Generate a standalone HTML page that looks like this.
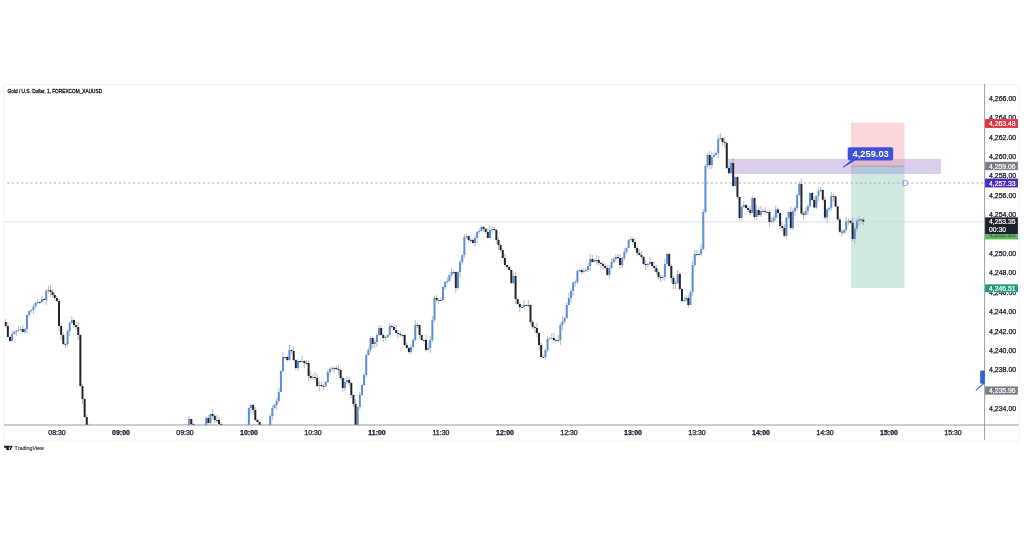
<!DOCTYPE html>
<html><head><meta charset="utf-8"><style>
html,body{margin:0;padding:0;background:#fff;width:1024px;height:536px;overflow:hidden}
svg{display:block;font-family:"Liberation Sans",sans-serif;will-change:transform;filter:blur(0.3px)}
</style></head><body>
<svg width="1024" height="536" viewBox="0 0 1024 536">
<rect x="4" y="84.5" width="1015" height="356.5" fill="#fff" stroke="#f0f0f0" stroke-width="0.8"/>
<defs><clipPath id="pane"><rect x="4.5" y="84.5" width="980" height="340.5"/></clipPath></defs>
<g clip-path="url(#pane)">
<rect x="728" y="158.9" width="213" height="15.1" fill="#dbcdec"/>
<rect x="851" y="122.6" width="53.5" height="43.7" fill="#fbd6da"/>
<rect x="851" y="166.3" width="53.5" height="121.6" fill="#cfe8e2"/>
<rect x="851" y="158.9" width="53.5" height="7.4" fill="#e0b9cd"/>
<rect x="851" y="166.3" width="53.5" height="7.7" fill="#b6c5da"/>
<line x1="851" y1="166.3" x2="904.5" y2="166.3" stroke="#9b9ba6" stroke-width="0.8"/>
<line x1="4.5" y1="221.8" x2="984.5" y2="221.8" stroke="#d5d7dc" stroke-width="0.8"/>
<line x1="4.5" y1="183" x2="984.5" y2="183" stroke="#a4a7b0" stroke-width="1" stroke-dasharray="2 2.66" stroke-dashoffset="1.9"/>
<path d="M5.70 319.00V327.50M7.83 322.00V337.50M9.97 336.00V342.00M12.10 331.00V341.50M14.23 330.00V334.50M16.37 330.00V336.00M18.50 326.00V332.00M20.63 327.00V331.00M22.77 325.00V332.50M24.90 328.00V334.00M27.03 314.50V333.00M29.17 310.50V317.00M31.30 309.50V312.50M33.43 304.00V314.00M35.57 301.50V307.50M37.70 299.50V304.50M39.83 301.00V304.00M41.97 296.00V303.00M44.10 298.00V300.50M46.23 289.00V305.00M48.37 286.00V294.00M50.50 285.00V297.00M52.63 289.00V297.50M54.77 293.00V299.50M56.90 296.00V302.00M59.03 298.50V331.00M61.17 323.00V340.00M63.30 332.50V345.00M65.43 343.00V348.00M67.57 329.50V347.00M69.70 321.50V336.00M71.83 316.00V323.50M73.97 319.00V328.00M76.10 322.00V330.00M78.23 322.00V340.00M80.37 334.00V387.00M82.50 383.50V404.00M84.63 398.00V417.50M86.77 414.50V431.00M88.90 423.50V454.00M91.03 447.00V450.50M93.17 445.00V453.00M95.30 448.50V451.00M97.43 445.00V450.50M99.57 448.00V452.50M101.70 448.50V452.00M103.83 446.00V454.00M105.97 445.00V451.00M108.10 448.50V455.00M110.23 446.00V452.50M112.37 448.50V454.00M114.50 447.50V454.00M116.63 447.00V454.00M118.77 448.00V451.50M120.90 449.00V451.50M123.03 448.50V452.00M125.17 448.00V450.50M127.30 445.00V451.50M129.43 447.50V452.50M131.57 449.50V451.50M133.70 446.00V453.00M135.83 447.00V451.50M137.97 449.50V455.00M140.10 446.00V454.00M142.23 446.00V454.00M144.37 449.00V455.00M146.50 446.00V450.50M148.63 448.00V451.00M150.77 448.00V455.00M152.90 448.50V451.00M155.03 447.00V450.50M157.17 449.00V450.50M159.30 448.50V451.00M161.43 447.00V450.50M163.57 449.00V452.00M165.70 446.00V451.50M167.83 447.50V453.00M169.97 447.00V455.00M172.10 449.00V451.00M174.23 445.00V455.00M176.37 445.00V455.00M178.50 447.50V451.00M180.63 448.50V451.00M182.77 447.00V452.50M184.90 445.00V451.50M187.03 449.50V452.00M189.17 416.00V451.50M191.30 418.50V426.50M193.43 423.00V452.50M195.57 447.00V451.50M197.70 447.00V452.00M199.83 447.00V452.00M201.97 448.00V452.00M204.10 446.00V452.00M206.23 416.00V455.00M208.37 415.00V423.50M210.50 413.50V425.50M212.63 409.00V418.50M214.77 414.00V423.00M216.90 415.00V423.00M219.03 417.00V425.00M221.17 422.00V451.00M223.30 448.00V455.00M225.43 448.00V453.00M227.57 448.00V455.00M229.70 449.50V455.00M231.83 447.00V451.00M233.97 449.00V454.00M236.10 448.00V455.00M238.23 448.50V454.00M240.37 447.00V451.00M242.50 446.00V455.00M244.63 446.00V451.00M246.77 448.50V451.50M248.90 406.50V450.50M251.03 403.50V413.00M253.17 403.50V415.00M255.30 407.00V421.50M257.43 418.50V422.50M259.57 421.50V426.00M261.70 423.50V454.00M263.83 448.00V452.00M265.97 449.50V452.50M268.10 448.00V452.50M270.23 414.00V453.00M272.37 405.50V420.00M274.50 403.50V408.50M276.63 398.00V410.00M278.77 388.00V402.50M280.90 369.50V392.50M283.03 352.00V372.50M285.17 356.50V358.50M287.30 355.50V361.50M289.43 345.00V361.00M291.57 349.50V354.00M293.70 346.00V361.00M295.83 359.50V370.00M297.97 359.00V370.50M300.10 360.50V363.00M302.23 356.00V362.50M304.37 360.00V368.00M306.50 360.00V365.00M308.63 360.50V381.00M310.77 371.00V380.00M312.90 374.50V380.00M315.03 372.00V379.50M317.17 374.00V387.00M319.30 381.00V391.00M321.43 382.00V387.00M323.57 384.00V390.00M325.70 381.00V388.00M327.83 369.50V383.00M329.97 367.50V375.00M332.10 366.50V371.50M334.23 366.50V373.00M336.37 366.00V370.00M338.50 365.00V375.00M340.63 368.50V380.00M342.77 376.50V392.00M344.90 378.00V391.00M347.03 376.00V384.00M349.17 377.00V386.00M351.30 382.00V398.00M353.43 394.50V407.00M355.57 399.00V430.00M357.70 406.50V429.00M359.83 392.00V409.50M361.97 384.00V396.00M364.10 373.00V386.00M366.23 354.00V377.50M368.37 347.50V355.50M370.50 336.50V352.50M372.63 336.50V348.00M374.77 339.50V348.00M376.90 333.50V347.00M379.03 325.00V336.00M381.17 325.50V335.50M383.30 333.50V342.00M385.43 336.00V340.50M387.57 334.50V338.00M389.70 323.50V336.00M391.83 324.00V328.00M393.97 324.50V331.00M396.10 325.00V333.50M398.23 330.00V338.00M400.37 331.50V336.50M402.50 334.50V337.00M404.63 334.00V346.50M406.77 342.50V348.50M408.90 346.50V354.00M411.03 344.50V354.50M413.17 338.00V349.50M415.30 320.00V341.50M417.43 322.50V328.00M419.57 324.50V337.50M421.70 334.50V340.50M423.83 339.50V342.00M425.97 335.00V352.00M428.10 343.00V351.00M430.23 336.00V353.00M432.37 316.00V342.50M434.50 296.00V322.00M436.63 295.00V302.00M438.77 298.50V304.00M440.90 297.00V300.50M443.03 285.50V300.50M445.17 281.00V289.50M447.30 277.00V283.50M449.43 274.50V282.00M451.57 268.00V277.50M453.70 270.00V274.50M455.83 271.50V293.00M457.97 270.50V289.50M460.10 259.50V277.00M462.23 254.50V264.50M464.37 234.00V258.00M466.50 233.00V239.00M468.63 235.50V242.50M470.77 238.00V243.00M472.90 238.50V243.50M475.03 235.00V247.00M477.17 231.00V243.00M479.30 228.50V234.00M481.43 225.00V231.50M483.57 226.00V231.50M485.70 228.00V233.50M487.83 228.00V238.50M489.97 226.00V238.50M492.10 226.50V232.50M494.23 227.00V231.00M496.37 228.50V244.00M498.50 237.00V250.00M500.63 243.50V252.50M502.77 248.50V258.50M504.90 254.00V266.50M507.03 264.50V269.00M509.17 266.00V270.50M511.30 269.50V284.50M513.43 273.00V284.00M515.57 272.00V304.00M517.70 298.50V304.50M519.83 302.00V312.00M521.97 304.50V307.50M524.10 300.00V308.00M526.23 304.00V306.00M528.37 300.00V307.50M530.50 304.00V324.50M532.63 320.00V329.00M534.77 325.00V333.00M536.90 323.00V337.00M539.03 332.00V350.00M541.17 342.50V357.50M543.30 355.00V358.00M545.43 348.50V360.00M547.57 336.50V352.50M549.70 337.00V339.50M551.83 333.00V339.00M553.97 333.00V342.50M556.10 339.00V342.00M558.23 335.00V342.50M560.37 322.50V345.00M562.50 316.50V330.00M564.63 317.00V323.50M566.77 302.50V319.00M568.90 293.00V305.50M571.03 288.50V303.00M573.17 281.50V296.00M575.30 279.50V286.50M577.43 269.00V284.00M579.57 269.00V272.00M581.70 268.50V274.50M583.83 268.00V273.50M585.97 267.50V272.00M588.10 263.00V272.00M590.23 254.00V271.00M592.37 255.00V262.50M594.50 258.50V262.50M596.63 255.00V265.00M598.77 256.00V265.50M600.90 261.50V268.00M603.03 261.00V270.00M605.17 263.00V269.00M607.30 265.00V275.50M609.43 265.00V278.00M611.57 258.00V269.00M613.70 257.00V262.50M615.83 254.50V261.50M617.97 254.00V259.00M620.10 254.00V269.00M622.23 257.00V268.00M624.37 248.00V260.50M626.50 247.50V254.50M628.63 239.00V248.50M630.77 236.50V241.50M632.90 237.00V244.50M635.03 238.00V251.00M637.17 246.00V256.00M639.30 249.00V255.50M641.43 251.00V259.00M643.57 256.00V264.50M645.70 260.00V270.00M647.83 262.50V267.50M649.97 257.00V264.50M652.10 260.50V267.50M654.23 261.00V272.00M656.37 265.00V274.50M658.50 269.50V279.50M660.63 274.50V282.00M662.77 275.00V280.50M664.90 259.00V281.00M667.03 253.00V265.50M669.17 252.50V267.00M671.30 264.00V283.00M673.43 276.00V289.00M675.57 280.00V289.00M677.70 270.00V284.50M679.83 272.00V291.00M681.97 288.00V302.50M684.10 297.00V302.00M686.23 295.00V302.00M688.37 295.00V307.50M690.50 290.00V305.50M692.63 261.00V296.00M694.77 250.00V267.00M696.90 250.00V256.50M699.03 251.00V254.50M701.17 244.00V256.50M703.30 209.00V250.50M705.43 164.00V213.00M707.57 152.50V168.00M709.70 151.00V169.00M711.83 152.00V169.00M713.97 152.50V157.50M716.10 151.50V155.50M718.23 135.00V158.00M720.37 133.00V139.50M722.50 137.00V146.00M724.63 137.00V148.00M726.77 141.00V169.00M728.90 166.00V174.50M731.03 161.50V174.00M733.17 158.00V187.00M735.30 176.50V186.50M737.43 175.50V199.00M739.57 196.50V220.50M741.70 205.50V220.50M743.83 201.00V208.00M745.97 204.00V209.00M748.10 205.50V212.00M750.23 206.00V215.50M752.37 196.00V213.50M754.50 197.50V219.50M756.63 205.00V219.50M758.77 207.00V217.00M760.90 206.00V217.00M763.03 209.00V211.50M765.17 207.00V214.50M767.30 211.50V212.50M769.43 210.00V227.00M771.57 217.00V223.00M773.70 215.30V223.00M775.83 205.50V220.80M777.97 207.50V218.00M780.10 212.50V229.00M782.23 222.00V231.00M784.37 224.00V237.70M786.50 216.90V238.20M788.63 211.00V219.40M790.77 207.00V230.00M792.90 208.50V230.00M795.03 206.00V216.00M797.17 193.00V210.50M799.30 181.50V196.00M801.43 179.00V215.00M803.57 211.50V219.80M805.70 207.00V215.30M807.83 204.50V215.00M809.97 192.50V208.00M812.10 192.50V201.50M814.23 196.00V208.10M816.37 195.50V209.10M818.50 187.30V201.00M820.63 187.00V192.30M822.77 189.00V201.30M824.90 196.80V219.50M827.03 208.10V222.50M829.17 207.20V212.10M831.30 192.00V210.70M833.43 193.00V201.50M835.57 195.00V207.40M837.70 205.90V220.40M839.83 216.90V232.80M841.97 228.80V236.50M844.10 228.90V234.50M846.23 217.40V232.90M848.37 218.30V225.40M850.50 219.80V223.20M852.63 217.70V241.00M854.77 225.60V244.00M856.90 218.70V231.60M859.03 216.40V225.70M861.17 218.90V223.80M863.30 217.80V225.40" stroke="#a6aab3" stroke-width="0.8" fill="none"/><path d="M11.10 334.00h2v7.00h-2zM13.23 332.00h2v2.00h-2zM15.37 331.00h2v1.00h-2zM17.50 330.00h2v1.00h-2zM19.63 329.00h2v1.00h-2zM23.90 329.00h2v3.00h-2zM26.03 315.00h2v14.00h-2zM28.17 311.00h2v4.00h-2zM30.30 310.00h2v1.00h-2zM32.43 306.50h2v3.50h-2zM34.57 303.00h2v3.50h-2zM36.70 302.00h2v1.00h-2zM40.97 299.00h2v3.00h-2zM45.23 291.00h2v9.00h-2zM47.37 290.00h2v1.00h-2zM66.57 331.00h2v13.00h-2zM68.70 323.00h2v8.00h-2zM70.83 320.00h2v3.00h-2zM188.17 419.00h2v31.00h-2zM205.23 418.00h2v32.00h-2zM209.50 414.00h2v9.00h-2zM247.90 408.00h2v42.00h-2zM250.03 405.00h2v3.00h-2zM269.23 416.00h2v34.00h-2zM271.37 408.00h2v8.00h-2zM273.50 405.00h2v3.00h-2zM275.63 401.00h2v4.00h-2zM277.77 392.00h2v9.00h-2zM279.90 371.00h2v21.00h-2zM282.03 357.00h2v14.00h-2zM288.43 350.00h2v10.00h-2zM296.97 361.00h2v7.00h-2zM301.23 361.00h2v1.00h-2zM311.90 377.00h2v1.00h-2zM318.30 385.00h2v1.00h-2zM324.70 382.00h2v4.00h-2zM326.83 372.00h2v10.00h-2zM328.97 369.00h2v3.00h-2zM331.10 368.00h2v1.00h-2zM343.90 382.00h2v6.00h-2zM346.03 380.00h2v2.00h-2zM356.70 407.00h2v18.00h-2zM358.83 395.00h2v12.00h-2zM360.97 385.00h2v10.00h-2zM363.10 375.00h2v10.00h-2zM365.23 355.00h2v20.00h-2zM367.37 350.00h2v5.00h-2zM369.50 338.00h2v12.00h-2zM373.77 342.00h2v2.00h-2zM375.90 335.00h2v7.00h-2zM378.03 328.00h2v7.00h-2zM384.43 337.00h2v1.00h-2zM386.57 335.00h2v2.00h-2zM388.70 326.00h2v9.00h-2zM410.03 347.00h2v5.00h-2zM412.17 340.00h2v7.00h-2zM414.30 325.00h2v15.00h-2zM427.10 348.00h2v2.00h-2zM429.23 340.00h2v8.00h-2zM431.37 320.00h2v20.00h-2zM433.50 298.00h2v22.00h-2zM442.03 287.00h2v13.00h-2zM444.17 282.00h2v5.00h-2zM446.30 281.00h2v1.00h-2zM448.43 275.00h2v6.00h-2zM450.57 272.00h2v3.00h-2zM456.97 272.00h2v16.00h-2zM459.10 262.00h2v10.00h-2zM461.23 255.00h2v7.00h-2zM463.37 237.00h2v18.00h-2zM465.50 236.00h2v1.00h-2zM474.03 238.00h2v5.00h-2zM476.17 232.00h2v6.00h-2zM478.30 231.00h2v1.00h-2zM480.43 227.00h2v4.00h-2zM488.97 230.00h2v8.00h-2zM491.10 229.00h2v1.00h-2zM512.43 276.00h2v7.00h-2zM523.10 305.00h2v2.00h-2zM544.43 350.00h2v7.00h-2zM546.57 339.00h2v11.00h-2zM548.70 338.50h2v0.80h-2zM550.83 338.00h2v0.80h-2zM559.37 325.00h2v15.00h-2zM561.50 321.50h2v3.50h-2zM563.63 318.00h2v3.50h-2zM565.77 305.00h2v13.00h-2zM567.90 298.00h2v7.00h-2zM570.03 291.00h2v7.00h-2zM572.17 282.50h2v8.50h-2zM574.30 282.00h2v0.80h-2zM576.43 271.00h2v11.00h-2zM578.57 270.00h2v1.00h-2zM582.83 271.00h2v1.00h-2zM584.97 270.00h2v1.00h-2zM587.10 266.00h2v4.00h-2zM589.23 259.00h2v7.00h-2zM593.50 260.00h2v2.00h-2zM608.43 268.00h2v7.00h-2zM610.57 262.00h2v6.00h-2zM612.70 259.00h2v3.00h-2zM614.83 257.00h2v2.00h-2zM621.23 258.00h2v7.00h-2zM623.37 252.00h2v6.00h-2zM625.50 248.00h2v4.00h-2zM627.63 240.00h2v8.00h-2zM629.77 239.00h2v1.00h-2zM646.83 264.00h2v1.00h-2zM648.97 262.00h2v2.00h-2zM661.77 277.00h2v1.00h-2zM663.90 264.00h2v13.00h-2zM666.03 254.00h2v10.00h-2zM674.57 283.00h2v1.00h-2zM676.70 274.00h2v9.00h-2zM683.10 300.00h2v1.00h-2zM685.23 298.00h2v2.00h-2zM689.50 292.00h2v13.00h-2zM691.63 265.00h2v27.00h-2zM693.77 254.00h2v11.00h-2zM700.17 249.00h2v5.00h-2zM702.30 212.00h2v37.00h-2zM704.43 166.00h2v46.00h-2zM706.57 155.00h2v11.00h-2zM710.83 157.00h2v8.00h-2zM712.97 155.00h2v2.00h-2zM715.10 153.00h2v2.00h-2zM717.23 139.00h2v14.00h-2zM719.37 138.00h2v1.00h-2zM730.03 163.00h2v10.00h-2zM734.30 177.00h2v9.00h-2zM740.70 207.00h2v11.00h-2zM742.83 205.00h2v2.00h-2zM751.37 198.00h2v15.00h-2zM755.63 210.00h2v7.00h-2zM759.90 211.00h2v4.00h-2zM770.57 221.00h2v1.00h-2zM772.70 217.80h2v3.20h-2zM774.83 209.50h2v8.30h-2zM785.50 217.40h2v18.30h-2zM787.63 212.00h2v5.40h-2zM791.90 211.00h2v17.00h-2zM794.03 208.00h2v3.00h-2zM796.17 195.00h2v13.00h-2zM798.30 184.00h2v11.00h-2zM804.70 211.00h2v3.80h-2zM806.83 206.00h2v5.00h-2zM808.97 193.00h2v13.00h-2zM815.37 196.00h2v11.60h-2zM817.50 191.30h2v4.70h-2zM819.63 190.00h2v1.30h-2zM826.03 209.60h2v7.90h-2zM828.17 207.70h2v1.90h-2zM830.30 196.00h2v11.70h-2zM843.10 229.90h2v2.60h-2zM845.23 221.40h2v8.50h-2zM847.37 220.80h2v0.80h-2zM853.77 228.60h2v10.40h-2zM855.90 220.70h2v7.90h-2zM858.03 219.40h2v1.30h-2z" fill="#5a8edc"/><path d="M4.70 322.00h2v4.00h-2zM6.83 326.00h2v11.00h-2zM8.97 337.00h2v4.00h-2zM21.77 329.00h2v3.00h-2zM38.83 302.00h2v0.80h-2zM43.10 299.00h2v1.00h-2zM49.50 290.00h2v2.00h-2zM51.63 292.00h2v3.00h-2zM53.77 295.00h2v3.00h-2zM55.90 298.00h2v3.00h-2zM58.03 301.00h2v25.00h-2zM60.17 326.00h2v9.00h-2zM62.30 335.00h2v9.00h-2zM64.43 344.00h2v0.80h-2zM72.97 320.00h2v5.00h-2zM75.10 325.00h2v2.00h-2zM77.23 327.00h2v8.00h-2zM79.37 335.00h2v51.00h-2zM81.50 386.00h2v13.00h-2zM83.63 399.00h2v18.00h-2zM85.77 417.00h2v9.00h-2zM87.90 426.00h2v24.00h-2zM90.03 450.00h2v0.80h-2zM92.17 450.00h2v0.80h-2zM94.30 450.00h2v0.80h-2zM96.43 450.00h2v0.80h-2zM98.57 450.00h2v0.80h-2zM100.70 450.00h2v0.80h-2zM102.83 450.00h2v0.80h-2zM104.97 450.00h2v0.80h-2zM107.10 450.00h2v0.80h-2zM109.23 450.00h2v0.80h-2zM111.37 450.00h2v0.80h-2zM113.50 450.00h2v0.80h-2zM115.63 450.00h2v0.80h-2zM117.77 450.00h2v0.80h-2zM119.90 450.00h2v0.80h-2zM122.03 450.00h2v0.80h-2zM124.17 450.00h2v0.80h-2zM126.30 450.00h2v0.80h-2zM128.43 450.00h2v0.80h-2zM130.57 450.00h2v0.80h-2zM132.70 450.00h2v0.80h-2zM134.83 450.00h2v0.80h-2zM136.97 450.00h2v0.80h-2zM139.10 450.00h2v0.80h-2zM141.23 450.00h2v0.80h-2zM143.37 450.00h2v0.80h-2zM145.50 450.00h2v0.80h-2zM147.63 450.00h2v0.80h-2zM149.77 450.00h2v0.80h-2zM151.90 450.00h2v0.80h-2zM154.03 450.00h2v0.80h-2zM156.17 450.00h2v0.80h-2zM158.30 450.00h2v0.80h-2zM160.43 450.00h2v0.80h-2zM162.57 450.00h2v0.80h-2zM164.70 450.00h2v0.80h-2zM166.83 450.00h2v0.80h-2zM168.97 450.00h2v0.80h-2zM171.10 450.00h2v0.80h-2zM173.23 450.00h2v0.80h-2zM175.37 450.00h2v0.80h-2zM177.50 450.00h2v0.80h-2zM179.63 450.00h2v0.80h-2zM181.77 450.00h2v0.80h-2zM183.90 450.00h2v0.80h-2zM186.03 450.00h2v0.80h-2zM190.30 419.00h2v5.00h-2zM192.43 424.00h2v26.00h-2zM194.57 450.00h2v0.80h-2zM196.70 450.00h2v0.80h-2zM198.83 450.00h2v0.80h-2zM200.97 450.00h2v0.80h-2zM203.10 450.00h2v0.80h-2zM207.37 418.00h2v5.00h-2zM211.63 414.00h2v2.00h-2zM213.77 416.00h2v4.00h-2zM215.90 420.00h2v0.80h-2zM218.03 420.00h2v4.00h-2zM220.17 424.00h2v26.00h-2zM222.30 450.00h2v0.80h-2zM224.43 450.00h2v0.80h-2zM226.57 450.00h2v0.80h-2zM228.70 450.00h2v0.80h-2zM230.83 450.00h2v0.80h-2zM232.97 450.00h2v0.80h-2zM235.10 450.00h2v0.80h-2zM237.23 450.00h2v0.80h-2zM239.37 450.00h2v0.80h-2zM241.50 450.00h2v0.80h-2zM243.63 450.00h2v0.80h-2zM245.77 450.00h2v0.80h-2zM252.17 405.00h2v5.00h-2zM254.30 410.00h2v10.00h-2zM256.43 420.00h2v2.00h-2zM258.57 422.00h2v3.00h-2zM260.70 425.00h2v25.00h-2zM262.83 450.00h2v0.80h-2zM264.97 450.00h2v0.80h-2zM267.10 450.00h2v0.80h-2zM284.17 357.00h2v0.80h-2zM286.30 357.00h2v3.00h-2zM290.57 350.00h2v1.00h-2zM292.70 351.00h2v9.00h-2zM294.83 360.00h2v8.00h-2zM299.10 361.00h2v1.00h-2zM303.37 361.00h2v2.00h-2zM305.50 363.00h2v0.80h-2zM307.63 363.00h2v13.00h-2zM309.77 376.00h2v2.00h-2zM314.03 377.00h2v1.00h-2zM316.17 378.00h2v8.00h-2zM320.43 385.00h2v1.00h-2zM322.57 386.00h2v0.80h-2zM333.23 368.00h2v0.80h-2zM335.37 368.00h2v1.00h-2zM337.50 369.00h2v1.00h-2zM339.63 370.00h2v8.00h-2zM341.77 378.00h2v10.00h-2zM348.17 380.00h2v3.00h-2zM350.30 383.00h2v12.00h-2zM352.43 395.00h2v9.00h-2zM354.57 404.00h2v21.00h-2zM371.63 338.00h2v6.00h-2zM380.17 328.00h2v7.00h-2zM382.30 335.00h2v3.00h-2zM390.83 326.00h2v1.00h-2zM392.97 327.00h2v3.00h-2zM395.10 330.00h2v3.00h-2zM397.23 333.00h2v1.00h-2zM399.37 334.00h2v1.00h-2zM401.50 335.00h2v0.80h-2zM403.63 335.00h2v10.00h-2zM405.77 345.00h2v3.00h-2zM407.90 348.00h2v4.00h-2zM416.43 325.00h2v0.80h-2zM418.57 325.00h2v10.00h-2zM420.70 335.00h2v5.00h-2zM422.83 340.00h2v0.80h-2zM424.97 340.00h2v10.00h-2zM435.63 298.00h2v2.00h-2zM437.77 300.00h2v0.80h-2zM439.90 300.00h2v0.80h-2zM452.70 272.00h2v0.80h-2zM454.83 272.00h2v16.00h-2zM467.63 236.00h2v4.00h-2zM469.77 240.00h2v0.80h-2zM471.90 240.00h2v3.00h-2zM482.57 227.00h2v2.00h-2zM484.70 229.00h2v3.00h-2zM486.83 232.00h2v6.00h-2zM493.23 229.00h2v1.00h-2zM495.37 230.00h2v10.00h-2zM497.50 240.00h2v5.00h-2zM499.63 245.00h2v5.00h-2zM501.77 250.00h2v8.00h-2zM503.90 258.00h2v7.00h-2zM506.03 265.00h2v2.00h-2zM508.17 267.00h2v3.00h-2zM510.30 270.00h2v13.00h-2zM514.57 276.00h2v23.00h-2zM516.70 299.00h2v5.00h-2zM518.83 304.00h2v3.00h-2zM520.97 307.00h2v0.80h-2zM525.23 305.00h2v0.80h-2zM527.37 305.00h2v0.80h-2zM529.50 305.00h2v17.00h-2zM531.63 322.00h2v5.00h-2zM533.77 327.00h2v1.00h-2zM535.90 328.00h2v5.00h-2zM538.03 333.00h2v12.00h-2zM540.17 345.00h2v12.00h-2zM542.30 357.00h2v0.80h-2zM552.97 338.00h2v2.00h-2zM555.10 340.00h2v0.80h-2zM557.23 340.00h2v0.80h-2zM580.70 270.00h2v2.00h-2zM591.37 259.00h2v3.00h-2zM595.63 260.00h2v0.80h-2zM597.77 260.00h2v3.00h-2zM599.90 263.00h2v1.00h-2zM602.03 264.00h2v2.00h-2zM604.17 266.00h2v2.00h-2zM606.30 268.00h2v7.00h-2zM616.97 257.00h2v1.00h-2zM619.10 258.00h2v7.00h-2zM631.90 239.00h2v3.00h-2zM634.03 242.00h2v6.00h-2zM636.17 248.00h2v5.00h-2zM638.30 253.00h2v2.00h-2zM640.43 255.00h2v2.00h-2zM642.57 257.00h2v7.00h-2zM644.70 264.00h2v1.00h-2zM651.10 262.00h2v4.00h-2zM653.23 266.00h2v2.00h-2zM655.37 268.00h2v4.00h-2zM657.50 272.00h2v5.00h-2zM659.63 277.00h2v1.00h-2zM668.17 254.00h2v12.00h-2zM670.30 266.00h2v12.00h-2zM672.43 278.00h2v6.00h-2zM678.83 274.00h2v15.00h-2zM680.97 289.00h2v12.00h-2zM687.37 298.00h2v7.00h-2zM695.90 254.00h2v0.80h-2zM698.03 254.00h2v0.80h-2zM708.70 155.00h2v10.00h-2zM721.50 138.00h2v4.00h-2zM723.63 142.00h2v1.00h-2zM725.77 143.00h2v25.00h-2zM727.90 168.00h2v5.00h-2zM732.17 163.00h2v23.00h-2zM736.43 177.00h2v20.00h-2zM738.57 197.00h2v21.00h-2zM744.97 205.00h2v3.00h-2zM747.10 208.00h2v2.00h-2zM749.23 210.00h2v3.00h-2zM753.50 198.00h2v19.00h-2zM757.77 210.00h2v5.00h-2zM762.03 211.00h2v0.80h-2zM764.17 211.00h2v1.00h-2zM766.30 212.00h2v0.80h-2zM768.43 212.00h2v10.00h-2zM776.97 209.50h2v3.50h-2zM779.10 213.00h2v13.00h-2zM781.23 226.00h2v2.00h-2zM783.37 228.00h2v7.70h-2zM789.77 212.00h2v16.00h-2zM800.43 184.00h2v29.50h-2zM802.57 213.50h2v1.30h-2zM811.10 193.00h2v7.00h-2zM813.23 200.00h2v7.60h-2zM821.77 190.00h2v9.80h-2zM823.90 199.80h2v17.70h-2zM832.43 196.00h2v0.80h-2zM834.57 196.50h2v9.90h-2zM836.70 206.40h2v13.00h-2zM838.83 219.40h2v12.40h-2zM840.97 231.80h2v0.80h-2zM849.50 220.80h2v1.90h-2zM851.63 222.70h2v16.30h-2zM860.17 219.40h2v0.80h-2zM862.30 219.80h2v1.60h-2z" fill="#22252e"/>
<path d="M903 180.5h2.5a2.5 2.5 0 0 1 0 5h-2.5z" fill="none" stroke="#7c8fd0" stroke-width="0.8"/>
</g>
<line x1="984.6" y1="84" x2="984.6" y2="440" stroke="#8d9098" stroke-width="0.9"/>
<line x1="4" y1="425" x2="1019" y2="425" stroke="#8d9098" stroke-width="0.9"/>
<text x="7.6" y="93.4" font-size="5.7" fill="#131722" stroke="#131722" stroke-width="0.3" textLength="94.5" lengthAdjust="spacingAndGlyphs">Gold / U.S. Dollar, 1, FOREXCOM_XAUUSD</text>
<g font-size="7" fill="#131722" stroke="#131722" stroke-width="0.25">
<text x="989" y="411.1">4,234.00</text><text x="989" y="391.7">4,236.00</text><text x="989" y="372.3">4,238.00</text><text x="989" y="352.9">4,240.00</text><text x="989" y="333.5">4,242.00</text><text x="989" y="314.1">4,244.00</text><text x="989" y="294.7">4,246.00</text><text x="989" y="275.3">4,248.00</text><text x="989" y="255.9">4,250.00</text><text x="989" y="236.5">4,252.00</text><text x="989" y="217.1">4,254.00</text><text x="989" y="197.7">4,256.00</text><text x="989" y="178.3">4,258.00</text><text x="989" y="158.9">4,260.00</text><text x="989" y="139.5">4,262.00</text><text x="989" y="120.1">4,264.00</text><text x="989" y="100.7">4,266.00</text>
</g>
<g font-size="7" fill="#131722" stroke="#131722" stroke-width="0.25">
<text x="57.0" y="434.8" text-anchor="middle">08:30</text><text x="121.0" y="434.8" text-anchor="middle" font-weight="bold">09:00</text><text x="185.0" y="434.8" text-anchor="middle">09:30</text><text x="249.0" y="434.8" text-anchor="middle" font-weight="bold">10:00</text><text x="313.0" y="434.8" text-anchor="middle">10:30</text><text x="377.0" y="434.8" text-anchor="middle" font-weight="bold">11:00</text><text x="441.0" y="434.8" text-anchor="middle">11:30</text><text x="505.0" y="434.8" text-anchor="middle" font-weight="bold">12:00</text><text x="569.0" y="434.8" text-anchor="middle">12:30</text><text x="633.0" y="434.8" text-anchor="middle" font-weight="bold">13:00</text><text x="697.0" y="434.8" text-anchor="middle">13:30</text><text x="761.0" y="434.8" text-anchor="middle" font-weight="bold">14:00</text><text x="825.0" y="434.8" text-anchor="middle">14:30</text><text x="889.0" y="434.8" text-anchor="middle" font-weight="bold">15:00</text><text x="953.0" y="434.8" text-anchor="middle">15:30</text>
</g>
<!-- axis labels -->
<g font-size="6.8" fill="#fff" stroke="#fff" stroke-width="0.18">
<rect x="985" y="119" width="33" height="9" fill="#e03340"/><text x="989" y="126">4,263.48</text>
<rect x="985" y="161.8" width="33" height="8.4" fill="#7a7d86"/><text x="989" y="168.5">4,259.06</text>
<rect x="985" y="178.5" width="33" height="9" fill="#4a2cb8"/><text x="989" y="185.5">4,257.33</text>
<clipPath id="gl"><rect x="985" y="234" width="33" height="5.5"/></clipPath><rect x="985" y="234" width="33" height="5.5" fill="#5cb85f"/><text x="989" y="236.6" clip-path="url(#gl)" fill="#2f6b3a" stroke="#2f6b3a">4,252.63</text>
<rect x="985" y="217.2" width="33" height="17" fill="#1e222d"/><text x="989" y="224">4,253.35</text><text x="989" y="231.7">00:30</text>
<rect x="985" y="284.2" width="33" height="8" fill="#1f9a7c"/><text x="989" y="290.7">4,246.51</text>
<rect x="985" y="386.3" width="33" height="8.5" fill="#7a7d86"/><text x="989" y="393">4,235.96</text>
</g>
<!-- tooltip -->
<rect x="847.7" y="147.3" width="45.5" height="13.1" rx="1.8" fill="#3c52d8"/>
<path d="M843.3 167.2L851.5 160.2h3.5z" fill="#3c52d8" stroke="#3c52d8" stroke-width="0.9" stroke-linejoin="round"/>
<text x="852.6" y="157.1" font-size="9.3" font-weight="bold" fill="#fff">4,259.03</text>
<!-- blue flag -->
<rect x="980.2" y="370.6" width="4.6" height="13.2" rx="1" fill="#2f5fe0"/>
<path d="M975.8 390.4L984.2 383.2" stroke="#2f5fe0" stroke-width="1.1"/>
<!-- TV logo -->
<path d="M4.1 445.7h4.8v4.4h-2.6v-2.4h-2.2z" fill="#131722"/>
<circle cx="9.9" cy="446.6" r="0.95" fill="#131722"/>
<path d="M9.3 450.1l2-4.4h1.5l-2 4.4z" fill="#131722"/>
<text x="14.6" y="450.3" font-size="5.6" fill="#303440" stroke="#303440" stroke-width="0.15" textLength="29.3" lengthAdjust="spacingAndGlyphs">TradingView</text>
</svg>
</body></html>
